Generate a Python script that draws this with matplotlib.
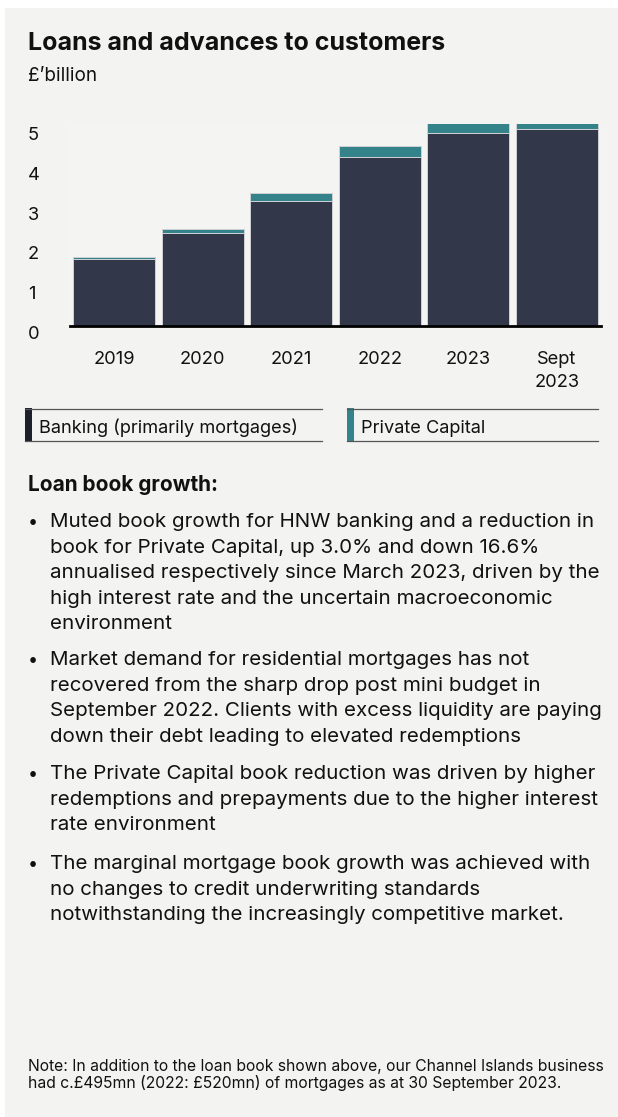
import numpy as np
import matplotlib
matplotlib.use("Agg")
import matplotlib.pyplot as plt
from matplotlib.patches import Rectangle
from matplotlib.transforms import Affine2D, ScaledTranslation

# chart data (GBP billion)
years = ["2019", "2020", "2021", "2022", "2023", "Sept\n2023"]
banking = [1.67, 2.33, 3.14, 4.24, 4.84, 4.94]
private_capital = [0.06, 0.10, 0.20, 0.27, 0.24, 0.20]
y_ticks = [0, 1, 2, 3, 4, 5]

title = "Loans and advances to customers"
unit = "£’billion"
legend_labels = ["Banking (primarily mortgages)", "Private Capital"]
heading = "Loan book growth:"
bullets = [
    ["Muted book growth for HNW banking and a reduction in",
     "book for Private Capital, up 3.0% and down 16.6%",
     "annualised respectively since March 2023, driven by the",
     "high interest rate and the uncertain macroeconomic",
     "environment"],
    ["Market demand for residential mortgages has not",
     "recovered from the sharp drop post mini budget in",
     "September 2022. Clients with excess liquidity are paying",
     "down their debt leading to elevated redemptions"],
    ["The Private Capital book reduction was driven by higher",
     "redemptions and prepayments due to the higher interest",
     "rate environment"],
    ["The marginal mortgage book growth was achieved with",
     "no changes to credit underwriting standards",
     "notwithstanding the increasingly competitive market."],
]
note = ["Note: In addition to the loan book shown above, our Channel Islands business",
        "had c.£495mn (2022: £520mn) of mortgages as at 30 September 2023."]

DARK = "#323849"
TEAL = "#35838a"
PANEL = "#f3f3f1"
TEXT = "#111111"

plt.rcParams["font.family"] = ["Inter", "DejaVu Sans"]

W, H = 618, 1117
fig = plt.figure(figsize=(W / 100, H / 100), dpi=100)
fig.patch.set_facecolor("white")

# pixel transform: x from left, y from top
px = Affine2D().scale(1 / W, -1 / H).translate(0, 1) + fig.transFigure

fig.patches.append(Rectangle((5, 8), W, H, transform=px, facecolor=PANEL,
                             edgecolor="none", zorder=-5))

# chart axes
ax_l, ax_r, ax_t, ax_b = 70, 601, 124, 325.5
ax = fig.add_axes([ax_l / W, 1 - ax_b / H, (ax_r - ax_l) / W, (ax_b - ax_t) / H])
ax.set_zorder(2)
ax.set_facecolor("#f4f4f2")
x = np.arange(len(years))
ax.bar(x, banking, width=0.93, color=DARK, edgecolor="#cfd0d4", linewidth=0.7)
ax.bar(x, private_capital, bottom=banking, width=0.93, color=TEAL,
       edgecolor="#cfd0d4", linewidth=0.7)
ax.set_xlim(-0.5, len(years) - 0.5)
ax.set_ylim(0, (ax_b - ax_t) / 39.8)
for s in ["top", "right", "left"]:
    ax.spines[s].set_visible(False)
ax.spines["bottom"].set_linewidth(2)
ax.spines["bottom"].set_color("black")
ax.set_yticks(y_ticks)
ax.set_yticklabels([str(v) for v in y_ticks], fontsize=13.2, color=TEXT)
ax.tick_params(axis="y", length=0, pad=30.2)
for lab in ax.get_yticklabels():
    lab.set_horizontalalignment("left")
    lab.set_transform(lab.get_transform() + ScaledTranslation(0, -7 / 100, fig.dpi_scale_trans))
ax.set_xticks(x)
ax.set_xticklabels(years, fontsize=13.2, color=TEXT, linespacing=1.45)
ax.tick_params(axis="x", length=0, pad=18.5)

# titles
fig.text(28, 50, title, transform=px, fontsize=18, fontweight="bold", color=TEXT)
fig.text(28, 81, unit, transform=px, fontsize=13.6, color=TEXT)

# legend boxes
for (x0, x1), lab, col in zip([(25, 322), (347, 598)], legend_labels, ["#1b202b", TEAL]):
    fig.lines.append(plt.Line2D([x0, x1], [408.5, 408.5], transform=px, color="#555555", lw=0.9))
    fig.lines.append(plt.Line2D([x0, x1], [440.5, 440.5], transform=px, color="#555555", lw=0.9))
    fig.patches.append(Rectangle((x0, 408), 7, 33, transform=px, facecolor=col, edgecolor="none"))
    fig.text(x0 + 14, 433, lab, transform=px, fontsize=13.1, color=TEXT)

# bullet text
fig.text(28, 491, heading, transform=px, fontsize=15, fontweight="bold", color=TEXT)
starts = [527, 665, 779, 869]
for y0, lines in zip(starts, bullets):
    fig.text(33, y0, "•", transform=px, fontsize=13, color=TEXT, ha="center")
    for i, line in enumerate(lines):
        fig.text(50, y0 + i * 25.6, line, transform=px, fontsize=14.8, color=TEXT)

for i, line in enumerate(note):
    fig.text(28, 1071 + i * 17, line, transform=px, fontsize=11.3, color=TEXT)

fig.savefig("out.png", dpi=100, facecolor=fig.get_facecolor())
